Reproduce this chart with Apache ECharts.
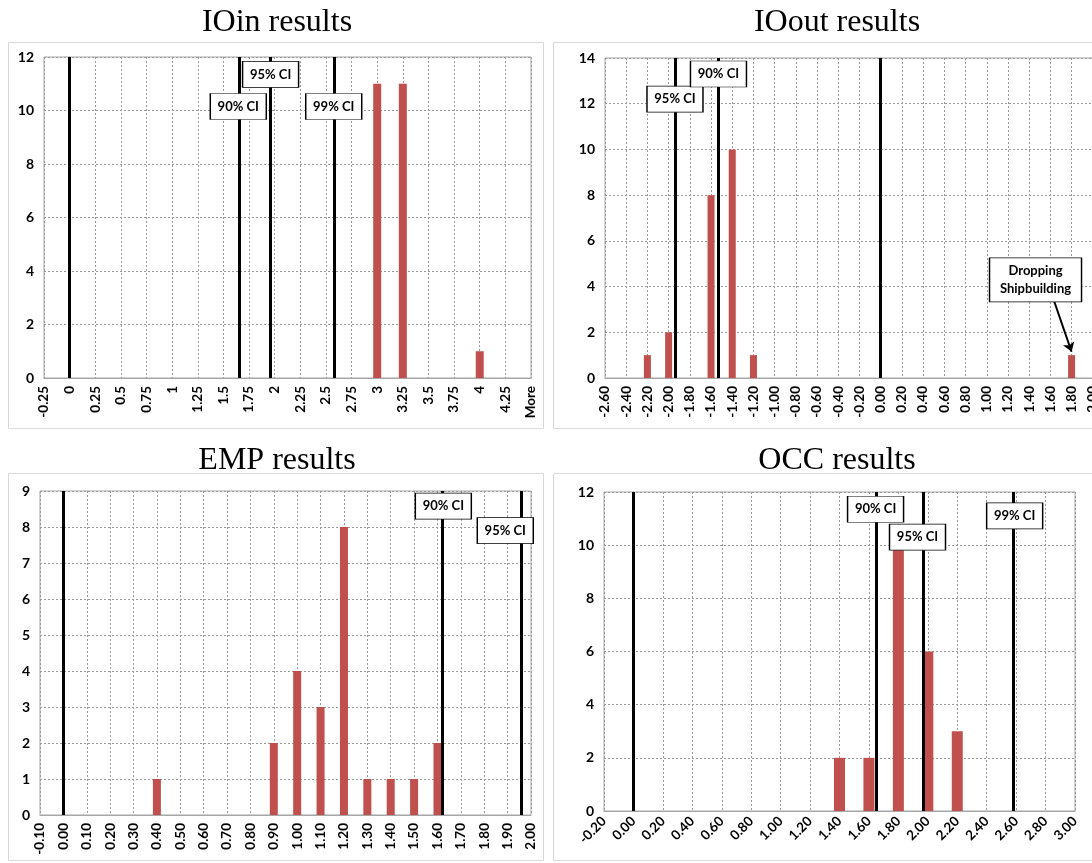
<!DOCTYPE html>
<html>
<head>
<meta charset="utf-8">
<script src="https://cdn.jsdelivr.net/npm/echarts@6/dist/echarts.min.js"></script>
<style>
  body { margin: 0; background: #fff; overflow: hidden; }
  #chart { width: 1200px; height: 863px; }
</style>
</head>
<body>
<div id="chart"></div>
<script>
// histogram data
var ioinX = [3, 3.25, 4];
var ioinY = [11, 11, 1];
var ioinTicks = ['-0.25', '0', '0.25', '0.5', '0.75', '1', '1.25', '1.5', '1.75', '2',
    '2.25', '2.5', '2.75', '3', '3.25', '3.5', '3.75', '4', '4.25', 'More'];
var ioinCI = [{ name: '90% CI', x: 1.645, y: 10.15 }, { name: '95% CI', x: 1.96, y: 11.35 }, { name: '99% CI', x: 2.576, y: 10.15 }];

var iooutX = [-2.2, -2.0, -1.6, -1.4, -1.2, 1.8];
var iooutY = [1, 2, 8, 10, 1, 1];
var iooutTicks = ['-2.60', '-2.40', '-2.20', '-2.00', '-1.80', '-1.60', '-1.40', '-1.20', '-1.00',
    '-0.80', '-0.60', '-0.40', '-0.20', '0.00', '0.20', '0.40', '0.60', '0.80', '1.00', '1.20',
    '1.40', '1.60', '1.80', '2.00', '2.20'];
var iooutCI = [{ name: '95% CI', x: -1.94, y: 12.2 }, { name: '90% CI', x: -1.53, y: 13.3 }];

var empX = [0.4, 0.9, 1.0, 1.1, 1.2, 1.3, 1.4, 1.5, 1.6];
var empY = [1, 2, 4, 3, 8, 1, 1, 1, 2];
var empTicks = ['-0.10', '0.00', '0.10', '0.20', '0.30', '0.40', '0.50', '0.60', '0.70', '0.80',
    '0.90', '1.00', '1.10', '1.20', '1.30', '1.40', '1.50', '1.60', '1.70', '1.80', '1.90', '2.00'];
var empCI = [{ name: '90% CI', x: 1.62, y: 8.58, bx: 1.625 }, { name: '95% CI', x: 1.955, y: 7.9, bx: 1.89 }];

var occX = [1.4, 1.6, 1.8, 2.0, 2.2];
var occY = [2, 2, 10, 6, 3];
var occTicks = ['-0.20', '0.00', '0.20', '0.40', '0.60', '0.80', '1.00', '1.20', '1.40', '1.60',
    '1.80', '2.00', '2.20', '2.40', '2.60', '2.80', '3.00'];
var occCI = [{ name: '90% CI', x: 1.645, y: 11.35, bx: 1.645 }, { name: '95% CI', x: 1.97, y: 10.3, bx: 1.93 },
    { name: '99% CI', x: 2.576, y: 11.1, bx: 2.59 }];

var barColor = '#C0504D';
var labelFont = 'Lato';

function pairs(xs, ys) {
    return xs.map(function (x, i) { return [x, ys[i]]; });
}

function xAxisFor(idx, min, max, step, ticks, rotate) {
    return {
        type: 'value', gridIndex: idx, min: min, max: max, interval: step,
        axisLine: { show: true, lineStyle: { color: '#a6a6a6' } },
        axisTick: { show: false },
        splitLine: { show: true, lineStyle: { color: '#9a9a9a', type: [2, 2], width: 1 } },
        axisLabel: {
            rotate: rotate, margin: 8, color: '#000', fontWeight: 'bold', fontSize: 13.5,
            fontFamily: labelFont, showMinLabel: true, showMaxLabel: true,
            formatter: function (v) { return ticks[Math.round((v - min) / step)]; }
        }
    };
}

function yAxisFor(idx, max, step) {
    return {
        type: 'value', gridIndex: idx, min: 0, max: max, interval: step,
        axisLine: { show: true, lineStyle: { color: '#a6a6a6' } },
        axisTick: { show: false },
        splitLine: { show: true, lineStyle: { color: '#9a9a9a', type: [2, 2], width: 1 } },
        axisLabel: { color: '#000', fontWeight: 'bold', fontSize: 14, fontFamily: labelFont, margin: 10 }
    };
}

function ciBoxes(list) {
    return list.map(function (c) {
        return { name: c.name, coord: [c.bx !== undefined ? c.bx : c.x, c.y] };
    });
}

function barSeries(idx, xs, ys, width, zeroLine, ci, extra) {
    var lines = [{ xAxis: zeroLine }].concat(ci.map(function (c) { return { xAxis: c.x }; }));
    var s = {
        type: 'bar', xAxisIndex: idx, yAxisIndex: idx,
        data: pairs(xs, ys), barWidth: width,
        itemStyle: { color: barColor },
        markLine: {
            silent: true, symbol: 'none', label: { show: false },
            lineStyle: { color: '#000', width: 3, type: 'solid' },
            data: lines
        },
        markPoint: {
            silent: true, symbol: 'rect', symbolSize: [56, 26],
            itemStyle: { color: '#fff', borderColor: '#000', borderWidth: 1 },
            label: { show: true, formatter: '{b}', color: '#000', fontWeight: 'bold', fontSize: 13, fontFamily: labelFont },
            data: ciBoxes(ci)
        }
    };
    if (extra) extra(s);
    return s;
}

var titleStyle = { fontFamily: 'Liberation Serif', fontWeight: 'normal', fontSize: 32, color: '#000' };

var dom = document.getElementById('chart');
var myChart = echarts.init(dom, null, { renderer: 'canvas' });
var option = {
    animation: false,
    backgroundColor: '#fff',
    title: [
        { text: 'IOin results', left: 272, top: 2, textAlign: 'center', textStyle: titleStyle },
        { text: 'IOout results', left: 832, top: 2, textAlign: 'center', textStyle: titleStyle },
        { text: 'EMP results', left: 272, top: 440, textAlign: 'center', textStyle: titleStyle },
        { text: 'OCC results', left: 832, top: 440, textAlign: 'center', textStyle: titleStyle }
    ],
    graphic: [
        { type: 'rect', shape: { x: 8.5, y: 42.5, width: 535, height: 386 }, style: { fill: 'none', stroke: '#d9d9d9' } },
        { type: 'rect', shape: { x: 553.5, y: 42.5, width: 560, height: 386 }, style: { fill: 'none', stroke: '#d9d9d9' } },
        { type: 'rect', shape: { x: 8.5, y: 473.5, width: 535, height: 387 }, style: { fill: 'none', stroke: '#d9d9d9' } },
        { type: 'rect', shape: { x: 553.5, y: 473.5, width: 560, height: 387 }, style: { fill: 'none', stroke: '#d9d9d9' } }
    ],
    grid: [
        { left: 44, top: 57, width: 487, height: 321, show: true, borderColor: '#a6a6a6' },
        { left: 605, top: 58, width: 509, height: 320, show: true, borderColor: '#a6a6a6' },
        { left: 40, top: 491, width: 491, height: 324, show: true, borderColor: '#a6a6a6' },
        { left: 604, top: 492, width: 471, height: 319, show: true, borderColor: '#a6a6a6' }
    ],
    xAxis: [
        xAxisFor(0, -0.25, 4.5, 0.25, ioinTicks, 90),
        xAxisFor(1, -2.6, 2.2, 0.2, iooutTicks, 90),
        xAxisFor(2, -0.1, 2.0, 0.1, empTicks, 90),
        xAxisFor(3, -0.2, 3.0, 0.2, occTicks, 45)
    ],
    yAxis: [
        yAxisFor(0, 12, 2),
        yAxisFor(1, 14, 2),
        yAxisFor(2, 9, 1),
        yAxisFor(3, 12, 2)
    ],
    series: [
        barSeries(0, ioinX, ioinY, 8, 0, ioinCI),
        barSeries(1, iooutX, iooutY, 7, 0, iooutCI, function (s) {
            s.markPoint.data.push({
                name: 'Dropping\nShipbuilding', coord: [1.46, 4.29], symbolSize: [92, 44],
                label: { lineHeight: 18 }
            });
            s.markLine.data.push([
                { coord: [1.625, 3.5], symbol: 'none', lineStyle: { width: 2 } },
                { coord: [1.8, 1.15], symbol: 'arrow', symbolSize: 9, lineStyle: { width: 2 } }
            ]);
        }),
        barSeries(2, empX, empY, 8, 0, empCI),
        barSeries(3, occX, occY, 11, 0, occCI)
    ]
};
if (option && typeof option === 'object') {
    myChart.setOption(option, true);
}
</script>
</body>
</html>
